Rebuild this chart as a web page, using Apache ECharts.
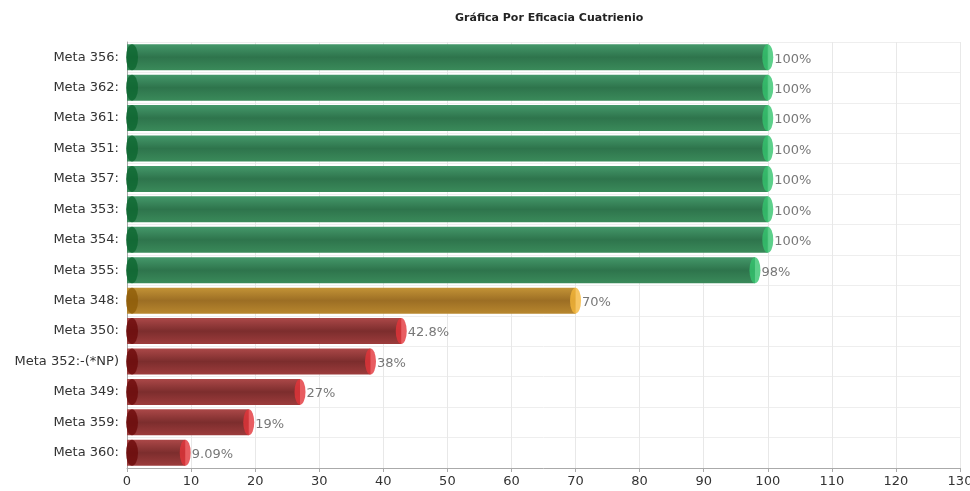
<!DOCTYPE html>
<html>
<head>
<meta charset="utf-8">
<script src="https://cdn.jsdelivr.net/npm/echarts@6/dist/echarts.min.js"></script>
<style>
  html, body { margin: 0; padding: 0; background: #fff; }
  #chart { width: 970px; height: 491px; }
</style>
</head>
<body>
<div id="chart"></div>
<script>
const categories = [
  "Meta 356:", "Meta 362:", "Meta 361:", "Meta 351:", "Meta 357:", "Meta 353:", "Meta 354:",
  "Meta 355:", "Meta 348:", "Meta 350:", "Meta 352:-(*NP)", "Meta 349:", "Meta 359:", "Meta 360:"
];
const values = [100, 100, 100, 100, 100, 100, 100, 98, 70, 42.8, 38, 27, 19, 9.09];
const xTicks = [0, 10, 20, 30, 40, 50, 60, 70, 80, 90, 100, 110, 120, 130];

// semaforo: verde / amarillo / rojo
const palettes = {
  green: { body: ["#44986a", "#2e744c", "#3a8a5a"], start: "#0d6630", end: "#34c46e" },
  yellow: { body: ["#c39336", "#9c6e24", "#b8872e"], start: "#8f5c08", end: "#f5b73a" },
  red: { body: ["#ab4848", "#7c2d2d", "#9c3c3c"], start: "#6c0a0a", end: "#e2353a" }
};
function pal(v) {
  if (v >= 80) return palettes.green;
  if (v >= 60) return palettes.yellow;
  return palettes.red;
}

const chart = echarts.init(document.getElementById("chart"));
const font = "DejaVu Sans, Verdana, sans-serif";

chart.setOption({
  animation: false,
  title: {
    text: "Gráfica Por Eficacia Cuatrienio",
    left: 450, top: 8,
    textStyle: { fontSize: 11, fontWeight: "bold", color: "#222", fontFamily: font }
  },
  grid: { left: 127, right: 10, top: 42, bottom: 23, outerBoundsMode: "none" },
  xAxis: {
    type: "value", min: 0, max: xTicks[xTicks.length - 1], interval: 10,
    axisLine: { show: true, lineStyle: { color: "#aaa" } },
    axisTick: { show: true, length: 4, lineStyle: { color: "#aaa" } },
    axisLabel: { color: "#333", fontSize: 13, fontFamily: font, margin: 7 },
    splitLine: { lineStyle: { color: "#e8e8e8" } }
  },
  yAxis: {
    type: "category", data: categories, inverse: true,
    axisLine: { show: true, lineStyle: { color: "#aaa" } },
    axisTick: { show: false },
    axisLabel: { color: "#333", fontSize: 13, fontFamily: font, margin: 8 },
    splitLine: { show: true, lineStyle: { color: "#eeeeee" } }
  },
  series: [
    {
      type: "bar",
      barWidth: 26,
      data: values.map(v => {
        const p = pal(v);
        return {
          value: v,
          itemStyle: {
            color: new echarts.graphic.LinearGradient(0, 0, 0, 1, [
              { offset: 0, color: p.body[0] },
              { offset: 0.5, color: p.body[1] },
              { offset: 1, color: p.body[2] }
            ])
          }
        };
      })
    },
    {
      type: "scatter",
      clip: false,
      symbol: "circle",
      symbolSize: [12, 26],
      symbolOffset: [5, 0],
      z: 3,
      data: values.map((v, i) => ({ value: [0, i], itemStyle: { color: pal(v).start } }))
    },
    {
      type: "scatter",
      clip: false,
      symbol: "circle",
      symbolSize: [11, 26],
      z: 3,
      label: {
        show: true, position: "right", distance: 1, offset: [0, 2],
        color: "#555", fontSize: 13, fontFamily: font,
        formatter: p => p.value[0] + "%"
      },
      data: values.map((v, i) => ({ value: [v, i], itemStyle: { color: pal(v).end } }))
    }
  ]
});
</script>
</body>
</html>
